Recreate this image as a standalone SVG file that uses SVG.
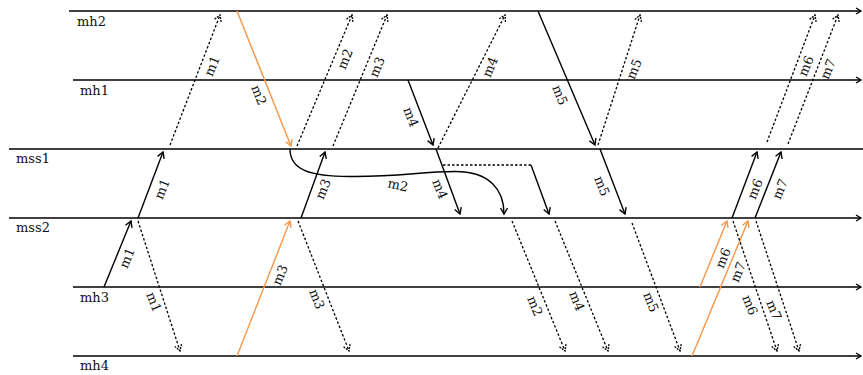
<svg xmlns="http://www.w3.org/2000/svg" width="863" height="375" viewBox="0 0 863 375">
<style>
.lane{stroke:#000;stroke-width:1.5;fill:none}
.lbl{font-family:"DejaVu Serif","Liberation Serif",serif;font-size:13px;fill:#111}
.ml{font-family:"DejaVu Serif","Liberation Serif",serif;font-size:13px;fill:#111;text-anchor:middle}
.s{stroke:#000;stroke-width:1.4;fill:none;marker-end:url(#ab)}
.o{stroke:#F79646;stroke-width:1.4;fill:none;marker-end:url(#ao)}
.d{stroke:#000;stroke-width:1.3;fill:none;stroke-dasharray:2.5 2;marker-end:url(#ad)}
.dn{stroke:#000;stroke-width:1.3;fill:none;stroke-dasharray:2.5 2}
</style>
<defs>
<marker id="ab" viewBox="-8 -5 10 10" refX="0" refY="0" markerWidth="10" markerHeight="10" markerUnits="userSpaceOnUse" orient="auto"><path d="M-6,-3.5 L0,0 L-6,3.5" fill="none" stroke="#000" stroke-width="1.4"/></marker>
<marker id="ao" viewBox="-8 -5 10 10" refX="0" refY="0" markerWidth="10" markerHeight="10" markerUnits="userSpaceOnUse" orient="auto"><path d="M-6,-3.5 L0,0 L-6,3.5" fill="none" stroke="#F79646" stroke-width="1.4"/></marker>
<marker id="ad" viewBox="-8 -5 10 10" refX="0" refY="0" markerWidth="10" markerHeight="10" markerUnits="userSpaceOnUse" orient="auto"><path d="M-6,-3.5 L0,0 L-6,3.5" fill="none" stroke="#000" stroke-width="1.3" stroke-dasharray="2 1"/></marker>
<marker id="ah" viewBox="-8 -5 10 10" refX="0" refY="0" markerWidth="10" markerHeight="10" markerUnits="userSpaceOnUse" orient="auto"><path d="M-5,-3 L0,0 L-5,3" fill="none" stroke="#000" stroke-width="1.3"/></marker>
</defs>

<g id="mh2"><line class="lane" x1="69" y1="11" x2="861" y2="11" marker-end="url(#ah)"/><text class="lbl" x="77" y="26">mh2</text></g>
<g id="mh1"><line class="lane" x1="73" y1="80" x2="861" y2="80" marker-end="url(#ah)"/><text class="lbl" x="80" y="95">mh1</text></g>
<g id="mss1"><line class="lane" x1="9" y1="149" x2="863" y2="149"/><text class="lbl" x="16" y="163">mss1</text></g>
<g id="mss2"><line class="lane" x1="9" y1="218" x2="861" y2="218" marker-end="url(#ah)"/><text class="lbl" x="16" y="232">mss2</text></g>
<g id="mh3"><line class="lane" x1="73" y1="287" x2="861" y2="287" marker-end="url(#ah)"/><text class="lbl" x="80" y="302">mh3</text></g>
<g id="mh4"><line class="lane" x1="73" y1="356" x2="861" y2="356" marker-end="url(#ah)"/><text class="lbl" x="80" y="370">mh4</text></g>

<g id="connectors">
<line class="s" x1="104" y1="287" x2="131" y2="221"/>
<line class="s" x1="138" y1="218" x2="163" y2="152"/>
<line class="s" x1="301" y1="218" x2="325" y2="152"/>
<line class="s" x1="408" y1="80" x2="433" y2="145"/>
<line class="s" x1="436" y1="149" x2="460" y2="214"/>
<line class="dn" x1="443" y1="165" x2="531" y2="165"/>
<line class="s" x1="531" y1="165" x2="549" y2="214"/>
<line class="s" x1="538" y1="11" x2="595" y2="145"/>
<line class="s" x1="600" y1="149" x2="625" y2="214"/>
<line class="s" x1="732" y1="218" x2="757" y2="152"/>
<line class="s" x1="755" y1="218" x2="781" y2="152"/>
<path class="s" d="M290,149 C290,170 310,176.5 350,176.5 C400,177 420,171.5 455,171.5 C490,171.5 504,190 504,214"/>

<line class="o" x1="237" y1="11" x2="291" y2="146"/>
<line class="o" x1="237" y1="356" x2="290" y2="221"/>
<line class="o" x1="700" y1="287" x2="727" y2="221"/>
<line class="o" x1="692" y1="356" x2="748" y2="221"/>

<line class="d" x1="170" y1="145" x2="220" y2="15"/>
<line class="d" x1="297" y1="146" x2="352" y2="15"/>
<line class="d" x1="333" y1="146" x2="387" y2="15"/>
<line class="d" x1="438" y1="148" x2="505" y2="15"/>
<line class="d" x1="598" y1="145" x2="640" y2="15"/>
<line class="d" x1="767" y1="142" x2="815" y2="15"/>
<line class="d" x1="788" y1="144" x2="838" y2="15"/>

<line class="d" x1="138" y1="221" x2="180" y2="351"/>
<line class="d" x1="298" y1="221" x2="349" y2="351"/>
<line class="d" x1="512" y1="221" x2="565" y2="351"/>
<line class="d" x1="555" y1="221" x2="608" y2="351"/>
<line class="d" x1="632" y1="223" x2="680" y2="351"/>
<line class="d" x1="733" y1="221" x2="777" y2="351"/>
<line class="d" x1="756" y1="221" x2="799" y2="351"/>

<text class="ml" transform="translate(127,258) rotate(-68)" dy="0.35em">m1</text>
<text class="ml" transform="translate(162,189) rotate(-68)" dy="0.35em">m1</text>
<text class="ml" transform="translate(212,66) rotate(-68)" dy="0.35em">m1</text>
<text class="ml" transform="translate(154,302) rotate(68)" dy="0.35em">m1</text>
<text class="ml" transform="translate(259,95) rotate(68)" dy="0.35em">m2</text>
<text class="ml" transform="translate(398,185) rotate(12)" dy="0.35em">m2</text>
<text class="ml" transform="translate(345,59) rotate(-68)" dy="0.35em">m2</text>
<text class="ml" transform="translate(535,306) rotate(68)" dy="0.35em">m2</text>
<text class="ml" transform="translate(280,275) rotate(-68)" dy="0.35em">m3</text>
<text class="ml" transform="translate(323,189) rotate(-68)" dy="0.35em">m3</text>
<text class="ml" transform="translate(377,67) rotate(-68)" dy="0.35em">m3</text>
<text class="ml" transform="translate(317,299) rotate(68)" dy="0.35em">m3</text>
<text class="ml" transform="translate(411,117) rotate(68)" dy="0.35em">m4</text>
<text class="ml" transform="translate(440,189) rotate(68)" dy="0.35em">m4</text>
<text class="ml" transform="translate(490,67) rotate(-68)" dy="0.35em">m4</text>
<text class="ml" transform="translate(577,301) rotate(68)" dy="0.35em">m4</text>
<text class="ml" transform="translate(560,95) rotate(68)" dy="0.35em">m5</text>
<text class="ml" transform="translate(602,186) rotate(68)" dy="0.35em">m5</text>
<text class="ml" transform="translate(634,69) rotate(-68)" dy="0.35em">m5</text>
<text class="ml" transform="translate(651,302) rotate(68)" dy="0.35em">m5</text>
<text class="ml" transform="translate(723,258) rotate(-68)" dy="0.35em">m6</text>
<text class="ml" transform="translate(738,272) rotate(-68)" dy="0.35em">m7</text>
<text class="ml" transform="translate(755,189) rotate(-68)" dy="0.35em">m6</text>
<text class="ml" transform="translate(780,189) rotate(-68)" dy="0.35em">m7</text>
<text class="ml" transform="translate(806,66) rotate(-68)" dy="0.35em">m6</text>
<text class="ml" transform="translate(828,69) rotate(-68)" dy="0.35em">m7</text>
<text class="ml" transform="translate(750,305) rotate(68)" dy="0.35em">m6</text>
<text class="ml" transform="translate(774,310) rotate(68)" dy="0.35em">m7</text>
</g>
</svg>
